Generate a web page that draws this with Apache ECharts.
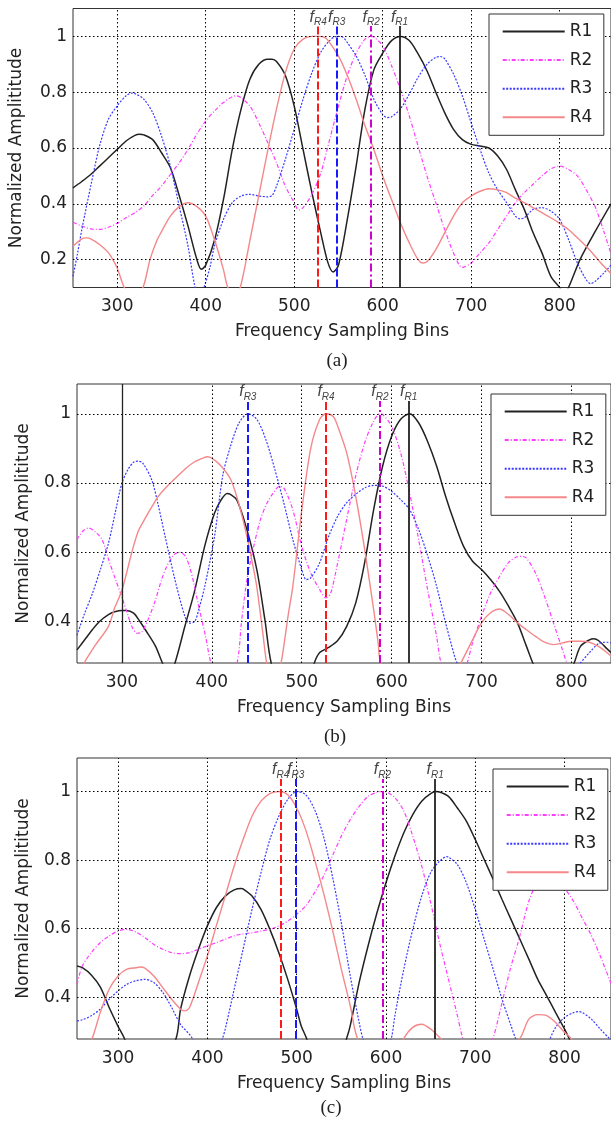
<!DOCTYPE html>
<html><head><meta charset="utf-8">
<script src="https://cdn.jsdelivr.net/npm/echarts@6.0.0/dist/echarts.min.js"></script>
<style>html,body{margin:0;padding:0;background:#fff}#c{width:611px;height:1123px}</style>
</head><body><div id="c"></div><script>
// ---------- data ----------
const seriesNames = ['R1', 'R2', 'R3', 'R4'];
const captions = ['(a)', '(b)', '(c)'];
const xTickValues = [300, 400, 500, 600, 700, 800];
const yTickValuesA = [0.2, 0.4, 0.6, 0.8, 1];
const yTickValuesBC = [0.4, 0.6, 0.8, 1];
const markerTop = 1.037;
// peak-frequency markers, order R1..R4
const a_marks = [619, 587, 548, 527];
const b_marks = [619, 587, 440, 527];
const c_marks = [655, 596, 499, 482];
const b_extraLine = [300];

// panel (a)
const a_R1 = [[250,0.457],[260,0.48],[270,0.505],[280,0.535],[290,0.565],[300,0.595],[310,0.625],[320,0.645],[325,0.649],[330,0.647],[340,0.63],[350,0.583],[360,0.53],[370,0.43],[380,0.32],[390,0.2],[395,0.165],[400,0.18],[410,0.27],[420,0.415],[430,0.595],[440,0.74],[450,0.847],[460,0.9],[470,0.918],[475,0.918],[480,0.91],[490,0.86],[500,0.75],[510,0.595],[520,0.44],[530,0.296],[538,0.19],[544,0.156],[550,0.18],[560,0.344],[570,0.535],[580,0.74],[590,0.88],[600,0.94],[610,0.985],[620,1.0],[630,0.985],[640,0.937],[650,0.877],[660,0.8],[670,0.727],[680,0.667],[690,0.63],[700,0.613],[710,0.607],[720,0.6],[730,0.571],[740,0.523],[750,0.45],[760,0.38],[770,0.296],[780,0.224],[790,0.14],[800,0.1],[805,0.08],[810,0.1],[823,0.2],[840,0.3],[858,0.4]];
const a_R2 = [[250,0.334],[260,0.32],[270,0.31],[280,0.308],[290,0.316],[300,0.33],[310,0.35],[320,0.368],[330,0.392],[340,0.43],[350,0.463],[360,0.505],[370,0.547],[380,0.595],[390,0.65],[400,0.697],[410,0.733],[420,0.763],[430,0.784],[435,0.787],[440,0.78],[450,0.75],[460,0.69],[470,0.62],[480,0.547],[490,0.463],[500,0.404],[505,0.378],[510,0.386],[520,0.434],[530,0.51],[540,0.63],[550,0.75],[560,0.86],[570,0.94],[580,0.99],[587,1.0],[590,0.998],[600,0.966],[610,0.895],[620,0.81],[630,0.715],[640,0.607],[650,0.5],[660,0.404],[670,0.308],[680,0.224],[690,0.172],[700,0.188],[710,0.224],[720,0.26],[730,0.308],[740,0.356],[750,0.404],[760,0.44],[770,0.47],[780,0.5],[790,0.525],[800,0.535],[810,0.523],[820,0.5],[830,0.45],[840,0.39],[850,0.3],[858,0.22]];
const a_R3 = [[250,0.14],[255,0.22],[260,0.308],[270,0.463],[280,0.607],[290,0.703],[300,0.751],[310,0.787],[317,0.797],[320,0.795],[330,0.775],[340,0.727],[350,0.643],[360,0.535],[370,0.392],[380,0.248],[388,0.1],[393,0.07],[398,0.1],[405,0.176],[410,0.25],[420,0.344],[430,0.404],[440,0.428],[450,0.434],[460,0.428],[470,0.425],[475,0.43],[480,0.463],[490,0.56],[500,0.667],[510,0.775],[520,0.87],[530,0.943],[540,0.985],[548,1.0],[555,0.997],[560,0.978],[570,0.93],[580,0.86],[590,0.775],[600,0.72],[605,0.709],[610,0.712],[620,0.74],[630,0.793],[640,0.853],[650,0.9],[660,0.925],[665,0.928],[670,0.92],[680,0.865],[690,0.787],[700,0.69],[710,0.595],[720,0.51],[730,0.45],[740,0.404],[750,0.356],[755,0.346],[760,0.35],[770,0.38],[780,0.386],[790,0.374],[800,0.344],[810,0.272],[820,0.188],[830,0.128],[835,0.114],[840,0.122],[850,0.152],[858,0.18]];
const a_R4 = [[250,0.248],[260,0.274],[265,0.278],[270,0.274],[280,0.254],[290,0.225],[295,0.2],[300,0.17],[308,0.1],[318,0.06],[329,0.1],[337,0.2],[345,0.27],[350,0.3],[360,0.356],[370,0.39],[380,0.404],[390,0.39],[400,0.356],[410,0.27],[420,0.164],[425,0.1],[432,0.07],[439,0.1],[450,0.27],[460,0.43],[470,0.59],[480,0.74],[490,0.87],[500,0.955],[510,0.99],[520,1.0],[527,1.0],[535,0.996],[540,0.978],[550,0.93],[560,0.86],[570,0.775],[580,0.68],[590,0.595],[600,0.5],[610,0.415],[620,0.332],[630,0.26],[640,0.2],[645,0.188],[650,0.192],[660,0.236],[670,0.296],[680,0.356],[690,0.404],[700,0.428],[710,0.445],[720,0.454],[730,0.45],[740,0.44],[750,0.42],[760,0.404],[770,0.386],[780,0.368],[790,0.35],[800,0.33],[810,0.308],[820,0.278],[830,0.248],[840,0.212],[850,0.176],[858,0.15]];

// panel (b)
const b_R1 = [[250,0.318],[260,0.352],[267,0.376],[275,0.4],[285,0.42],[292,0.428],[300,0.432],[305,0.432],[313,0.424],[320,0.4],[326,0.376],[337,0.33],[345,0.28],[352,0.24],[359,0.28],[370,0.386],[381,0.49],[392,0.617],[403,0.713],[410,0.75],[417,0.77],[420,0.768],[428,0.75],[439,0.665],[450,0.55],[459,0.405],[466,0.28],[480,0.17],[495,0.15],[508,0.22],[514,0.28],[520,0.31],[530,0.325],[540,0.345],[550,0.386],[560,0.453],[570,0.57],[580,0.723],[590,0.849],[600,0.935],[610,0.984],[620,1.0],[630,0.974],[640,0.92],[650,0.849],[660,0.762],[670,0.685],[680,0.617],[690,0.574],[700,0.55],[710,0.521],[720,0.487],[730,0.444],[740,0.396],[750,0.328],[757,0.28],[780,0.15],[803,0.28],[810,0.328],[820,0.347],[825,0.35],[830,0.345],[840,0.32],[844,0.31]];
const b_R2 = [[250,0.636],[256,0.66],[263,0.67],[270,0.66],[278,0.636],[285,0.58],[293,0.52],[300,0.47],[307,0.415],[312,0.38],[317,0.366],[322,0.37],[329,0.405],[337,0.46],[344,0.52],[350,0.56],[358,0.593],[364,0.6],[370,0.59],[375,0.56],[380,0.51],[384,0.46],[393,0.357],[399,0.28],[413,0.18],[428,0.28],[433,0.4],[439,0.52],[446,0.61],[454,0.694],[461,0.74],[468,0.77],[475,0.79],[480,0.786],[490,0.723],[500,0.617],[510,0.54],[520,0.492],[527,0.468],[532,0.48],[540,0.57],[550,0.695],[560,0.82],[570,0.916],[580,0.979],[587,1.0],[590,0.998],[600,0.964],[610,0.887],[620,0.771],[630,0.637],[640,0.492],[650,0.357],[655,0.28],[670,0.18],[684,0.28],[690,0.338],[700,0.415],[710,0.482],[720,0.53],[730,0.57],[740,0.587],[745,0.588],[750,0.583],[760,0.54],[770,0.473],[780,0.396],[790,0.318],[795,0.28],[820,0.15],[844,0.1]];
const b_R3 = [[250,0.36],[258,0.42],[267,0.48],[276,0.55],[285,0.626],[293,0.72],[300,0.8],[307,0.84],[313,0.86],[318,0.863],[323,0.858],[333,0.81],[340,0.74],[348,0.646],[359,0.52],[370,0.415],[375,0.395],[381,0.4],[386,0.44],[392,0.5],[403,0.646],[412,0.82],[420,0.9],[430,0.972],[440,1.0],[450,0.984],[460,0.926],[470,0.84],[480,0.743],[490,0.637],[500,0.55],[505,0.521],[510,0.526],[520,0.57],[530,0.646],[540,0.704],[550,0.743],[560,0.767],[570,0.786],[580,0.793],[590,0.791],[600,0.776],[610,0.752],[620,0.723],[630,0.666],[640,0.59],[650,0.502],[660,0.396],[670,0.3],[673,0.28],[740,0.05],[810,0.28],[820,0.31],[830,0.336],[840,0.34],[844,0.338]];
const b_R4 = [[250,0.23],[258,0.28],[270,0.33],[285,0.386],[292,0.44],[300,0.49],[311,0.6],[318,0.66],[325,0.694],[333,0.73],[340,0.76],[350,0.79],[358,0.81],[370,0.84],[380,0.86],[390,0.872],[395,0.876],[400,0.872],[410,0.85],[421,0.81],[430,0.74],[439,0.646],[445,0.57],[450,0.5],[457,0.36],[461,0.28],[469,0.2],[477,0.28],[485,0.42],[490,0.5],[500,0.72],[510,0.9],[520,0.984],[527,1.0],[535,0.992],[540,0.964],[550,0.887],[560,0.762],[570,0.608],[580,0.434],[585,0.338],[588,0.28],[630,0.05],[677,0.28],[690,0.347],[700,0.396],[710,0.425],[720,0.436],[730,0.42],[740,0.396],[750,0.376],[760,0.357],[770,0.34],[780,0.333],[790,0.338],[800,0.343],[810,0.343],[820,0.34],[830,0.328],[840,0.309],[844,0.3]];

// panel (c)
const c_R1 = [[254,0.491],[260,0.486],[270,0.465],[280,0.43],[290,0.37],[300,0.315],[307,0.28],[336,0.1],[365,0.28],[370,0.365],[380,0.462],[390,0.54],[400,0.608],[410,0.661],[420,0.695],[430,0.713],[438,0.717],[440,0.716],[450,0.695],[460,0.656],[470,0.598],[480,0.53],[490,0.452],[500,0.365],[505,0.317],[511,0.28],[533,0.1],[556,0.28],[560,0.317],[570,0.443],[580,0.55],[590,0.647],[600,0.734],[610,0.812],[620,0.88],[630,0.933],[640,0.972],[650,0.994],[656,1.0],[660,0.999],[670,0.986],[680,0.952],[690,0.914],[700,0.86],[710,0.802],[720,0.744],[730,0.685],[740,0.627],[750,0.569],[760,0.511],[770,0.452],[780,0.404],[790,0.355],[800,0.307],[805,0.28],[830,0.12],[852,0.05]];
const c_R2 = [[254,0.438],[260,0.491],[270,0.53],[280,0.559],[290,0.579],[300,0.593],[310,0.598],[320,0.59],[330,0.574],[340,0.554],[350,0.54],[360,0.53],[370,0.527],[380,0.53],[390,0.54],[400,0.55],[410,0.559],[420,0.569],[430,0.579],[440,0.585],[450,0.588],[460,0.593],[470,0.598],[480,0.608],[490,0.622],[500,0.642],[510,0.666],[520,0.705],[530,0.753],[540,0.812],[550,0.87],[560,0.918],[570,0.957],[580,0.986],[590,0.998],[596,1.0],[600,0.999],[610,0.982],[620,0.943],[630,0.87],[640,0.783],[650,0.676],[660,0.559],[670,0.452],[680,0.346],[686,0.28],[703,0.15],[720,0.28],[730,0.384],[740,0.49],[748,0.56],[760,0.68],[770,0.74],[780,0.775],[785,0.778],[790,0.77],[800,0.72],[810,0.68],[820,0.63],[830,0.58],[840,0.52],[852,0.44]];
const c_R3 = [[254,0.331],[260,0.334],[270,0.346],[280,0.365],[290,0.394],[300,0.418],[310,0.438],[320,0.448],[330,0.452],[340,0.443],[350,0.414],[360,0.37],[370,0.32],[383,0.28],[400,0.15],[417,0.28],[420,0.307],[430,0.423],[440,0.54],[450,0.656],[460,0.763],[470,0.86],[480,0.928],[490,0.977],[500,1.0],[510,0.991],[520,0.948],[530,0.87],[540,0.753],[550,0.617],[560,0.462],[570,0.326],[574,0.28],[590,0.15],[606,0.28],[610,0.346],[620,0.482],[630,0.598],[640,0.695],[650,0.763],[660,0.797],[668,0.81],[670,0.809],[680,0.787],[690,0.734],[700,0.656],[710,0.569],[720,0.482],[730,0.394],[740,0.317],[745,0.28],[765,0.15],[784,0.28],[790,0.312],[800,0.341],[810,0.355],[815,0.358],[820,0.355],[830,0.336],[840,0.307],[850,0.28],[852,0.275]];
const c_R4 = [[254,0.2],[262,0.24],[271,0.28],[280,0.355],[290,0.423],[300,0.462],[310,0.482],[320,0.486],[325,0.488],[330,0.485],[340,0.462],[350,0.428],[360,0.394],[370,0.365],[375,0.36],[380,0.37],[390,0.443],[400,0.52],[410,0.608],[420,0.695],[430,0.783],[440,0.86],[450,0.928],[460,0.972],[470,0.994],[480,1.0],[490,0.991],[500,0.952],[510,0.889],[520,0.802],[530,0.705],[540,0.598],[550,0.482],[560,0.375],[568,0.28],[594,0.15],[620,0.28],[630,0.312],[640,0.321],[650,0.307],[661,0.28],[705,0.15],[750,0.28],[760,0.336],[770,0.349],[780,0.346],[790,0.326],[800,0.297],[807,0.28],[830,0.15],[852,0.1]];

// ---------- layout / style ----------
const panels = [
  { grid: {left: 73, top: 8.5, width: 538, height: 279}, x: [250, 858], y: [0.1, 1.1], yTicks: yTickValuesA,
    curves: [a_R1, a_R2, a_R3, a_R4], marks: a_marks, extra: [], legend: {left: 489, top: 14}, cap: [337, 361], yGap: 48 },
  { grid: {left: 77, top: 384, width: 535, height: 279}, x: [250, 844], y: [0.28, 1.086], yTicks: yTickValuesBC,
    curves: [b_R1, b_R2, b_R3, b_R4], marks: b_marks, extra: b_extraLine, legend: {left: 491, top: 394}, cap: [335, 737], yGap: 45 },
  { grid: {left: 77, top: 758, width: 535, height: 281}, x: [254, 852], y: [0.278, 1.098], yTicks: yTickValuesBC,
    curves: [c_R1, c_R2, c_R3, c_R4], marks: c_marks, extra: [], legend: {left: 493, top: 769}, cap: [331, 1108], yGap: 45 }
];
const FONT = 'DejaVu Sans';
const curveStyles = [
  {color: '#222222', width: 1.5, type: 'solid'},
  {color: '#ff3cff', width: 1.2, type: [4, 2, 1, 2]},
  {color: '#3a3aff', width: 1.2, type: [2, 1.5]},
  {color: '#f4888a', width: 1.4, type: 'solid'}
];
const markStyles = [
  {color: '#222222', width: 1.8, type: 'solid'},
  {color: '#d000d0', width: 2, type: [8, 3, 2, 3]},
  {color: '#1a1aff', width: 2, type: [8, 3]},
  {color: '#ff1a1a', width: 2, type: [8, 3]}
];
const fmtY = v => (Math.abs(v - 1) < 1e-9 ? '1' : v.toFixed(1));

const grids = [], xAxes = [], yAxes = [], series = [], legends = [], graphics = [];
panels.forEach((p, i) => {
  grids.push(Object.assign({show: true, borderColor: '#333', borderWidth: 1, backgroundColor: 'transparent', containLabel: false}, p.grid));
  xAxes.push({
    type: 'value', gridIndex: i, min: p.x[0], max: p.x[1],
    axisLine: {show: false}, axisTick: {show: false}, splitLine: {show: false},
    axisLabel: {customValues: xTickValues, margin: 11, fontSize: 17, fontFamily: FONT, color: '#222'},
    name: 'Frequency Sampling Bins', nameLocation: 'middle', nameGap: 36,
    nameTextStyle: {fontSize: 17, fontFamily: FONT, color: '#222'}
  });
  yAxes.push({
    type: 'value', gridIndex: i, min: p.y[0], max: p.y[1],
    axisLine: {show: false}, axisTick: {show: false}, splitLine: {show: false},
    axisLabel: {customValues: p.yTicks, formatter: fmtY, margin: 6, fontSize: 17, fontFamily: FONT, color: '#222'},
    name: 'Normalized Amplititude', nameLocation: 'middle', nameGap: p.yGap,
    nameTextStyle: {fontSize: 17, fontFamily: FONT, color: '#222'}
  });
  // dotted grid lines
  series.push({
    type: 'line', name: 'grid' + i, xAxisIndex: i, yAxisIndex: i, data: [], silent: true, z: 1,
    markLine: {
      symbol: ['none', 'none'], silent: true, animation: false, label: {show: false},
      lineStyle: {color: '#000', type: [1.5, 2.5], width: 1},
      data: xTickValues.map(v => ({xAxis: v})).concat(p.yTicks.map(v => ({yAxis: v})))
    }
  });
  // curves
  p.curves.forEach((d, k) => {
    const st = curveStyles[k];
    series.push({
      type: 'line', name: seriesNames[k], xAxisIndex: i, yAxisIndex: i, data: d,
      symbol: 'none', showSymbol: false, smooth: 0.3, clip: true, z: 3, silent: true,
      lineStyle: {color: st.color, width: st.width, type: st.type},
      itemStyle: {color: st.color}
    });
  });
  // peak markers
  const mdata = p.marks.map((m, k) => [
    {coord: [m, p.y[0]], lineStyle: markStyles[k],
     label: {show: true, position: 'end', distance: 1, color: '#444',
             formatter: '{f|f}{s|' + seriesNames[k] + '}',
             rich: {f: {fontSize: 16, fontStyle: 'italic', fontFamily: 'Liberation Sans', color: '#444'},
                    s: {fontSize: 10, fontStyle: 'italic', fontFamily: 'Liberation Sans', color: '#444', verticalAlign: 'bottom', padding: [0, 0, -2, 0]}}}},
    {coord: [m, markerTop]}
  ]);
  p.extra.forEach(v => mdata.push({xAxis: v, lineStyle: {color: '#222', width: 1.3, type: 'solid'}, label: {show: false}}));
  series.push({
    type: 'line', name: 'mark' + i, xAxisIndex: i, yAxisIndex: i, data: [], silent: true, z: 4,
    markLine: {symbol: ['none', 'none'], silent: true, animation: false, data: mdata}
  });
  legends.push({
    orient: 'vertical', left: p.legend.left, top: p.legend.top, z: 10,
    padding: [9, 11.5, 9.5, 12.7], itemGap: 11.6, itemWidth: 62, itemHeight: 12,
    backgroundColor: '#fff', borderColor: '#333', borderWidth: 1, selectedMode: false,
    itemStyle: {opacity: 0},
    textStyle: {fontSize: 17, fontFamily: FONT, color: '#222'},
    data: seriesNames
  });
  graphics.push({
    type: 'text', x: p.cap[0], y: p.cap[1], z: 10,
    style: {text: captions[i], fontSize: 19, fontFamily: 'Liberation Serif', fill: '#222', align: 'center', verticalAlign: 'middle'}
  });
});

const chart = echarts.init(document.getElementById('c'), null, {renderer: 'canvas'});
chart.setOption({
  backgroundColor: '#fff',
  animation: false,
  grid: grids, xAxis: xAxes, yAxis: yAxes,
  legend: legends, series: series, graphic: graphics
});
</script></body></html>
